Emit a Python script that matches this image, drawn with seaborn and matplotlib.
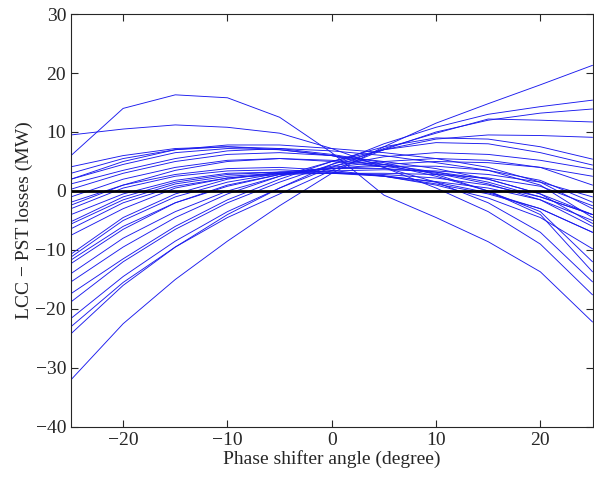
import matplotlib
matplotlib.use("Agg")
import matplotlib.pyplot as plt
import pandas as pd
import seaborn as sns

sns.set_style("ticks")
plt.rcParams["font.family"] = ["Liberation Serif", "DejaVu Serif"]
plt.rcParams["xtick.direction"] = "in"
plt.rcParams["ytick.direction"] = "in"

angles = [-25, -20, -15, -10, -5, 0, 5, 10, 15, 20, 25]

# loss differences per operating case
cases = [
    [-32.0, -22.5, -15.0, -8.5, -2.5, 3.0, 7.5, 11.5, 14.8, 18.0, 21.3],
    [-24.2, -16.0, -9.5, -4.0, 0.5, 4.5, 8.0, 10.8, 13.0, 14.3, 15.4],
    [-23.0, -15.5, -9.5, -4.5, -0.5, 3.5, 7.0, 10.0, 12.0, 13.2, 13.9],
    [-21.6, -14.5, -8.5, -3.5, 0.5, 4.0, 7.2, 9.8, 12.2, 12.0, 11.7],
    [-18.8, -12.0, -6.5, -2.0, 1.5, 4.5, 7.0, 8.8, 9.5, 9.4, 9.1],
    [-17.4, -11.5, -6.0, -1.5, 2.0, 5.0, 7.5, 9.0, 8.8, 7.5, 5.4],
    [-15.4, -9.5, -4.5, -0.5, 2.5, 5.0, 7.0, 8.2, 8.0, 6.5, 4.4],
    [-14.0, -8.0, -3.5, 0.0, 2.5, 4.2, 5.8, 6.5, 6.2, 5.2, 3.7],
    [-12.3, -6.5, -2.0, 0.8, 2.8, 3.8, 4.5, 5.0, 4.8, 4.0, 2.5],
    [-11.7, -6.0, -2.0, 1.0, 2.8, 4.0, 5.0, 5.5, 5.2, 4.0, 1.0],
    [-11.2, -5.0, -1.0, 1.5, 3.0, 3.8, 4.2, 4.2, 3.5, 1.8, -1.9],
    [-10.7, -4.5, -0.5, 2.0, 3.2, 3.8, 3.8, 3.2, 2.0, -0.5, -4.0],
    [-7.5, -3.0, 0.5, 2.2, 3.0, 3.4, 3.6, 3.4, 2.8, 1.5, -1.0],
    [-6.4, -2.0, 0.8, 2.2, 2.8, 3.0, 3.0, 2.8, 2.2, 0.8, -2.5],
    [-5.6, -1.5, 1.2, 2.5, 3.0, 3.0, 2.8, 2.2, 1.0, -1.0, -4.0],
    [-5.2, -1.0, 1.5, 2.8, 3.2, 3.2, 2.6, 1.5, -0.3, -3.0, -7.0],
    [-4.0, -0.5, 1.8, 3.0, 3.2, 3.0, 2.5, 1.6, 0.5, -1.5, -5.0],
    [-3.0, 0.5, 2.5, 3.4, 3.6, 3.2, 2.5, 1.2, -0.5, -3.0, -7.0],
    [-1.9, 1.0, 2.8, 3.8, 4.0, 3.5, 2.5, 1.0, -1.2, -4.5, -9.8],
    [-1.0, 2.0, 4.0, 5.2, 5.5, 5.0, 4.2, 3.0, 1.2, -1.5, -6.0],
    [0.3, 3.0, 5.0, 6.2, 6.5, 6.0, 5.0, 3.8, 2.0, -0.5, -5.5],
    [1.2, 3.5, 5.5, 6.8, 7.2, 6.8, 6.0, 4.8, 3.5, 1.0, -4.5],
    [2.0, 4.5, 6.5, 7.2, 7.0, 6.0, 4.5, 2.5, 0.0, -3.5, -12.0],
    [2.0, 5.0, 7.0, 7.5, 7.2, 6.2, 4.8, 2.8, 0.0, -4.0, -13.7],
    [4.1, 6.0, 7.2, 7.5, 7.0, 6.0, 4.0, 1.5, -2.0, -7.0, -15.4],
    [3.0, 5.5, 7.0, 7.8, 7.8, 7.2, 6.5, 5.5, 4.0, 1.5, -3.0],
    [-2.4, 1.0, 3.5, 5.0, 5.5, 5.2, 4.5, 3.2, 1.5, -1.0, -4.0],
    [6.0, 14.0, 16.3, 15.8, 12.5, 6.5, -0.7, -4.5, -8.6, -13.7, -22.2],
    [9.5, 10.5, 11.2, 10.8, 9.8, 7.2, 4.0, 0.5, -3.5, -9.0, -17.6],
]

rows = []
for i, vals in enumerate(cases):
    for a, v in zip(angles, vals):
        rows.append({"case": i, "angle": a, "loss": v})
df = pd.DataFrame(rows)

fig = plt.figure(figsize=(5.94, 4.83), dpi=100)
ax = fig.add_axes([0.1195, 0.116, 0.878, 0.855])

sns.lineplot(data=df, x="angle", y="loss", units="case", estimator=None,
             color="#1a1aee", linewidth=0.65, ax=ax)
ax.axhline(0, color="black", linewidth=2)

ax.set_xlim(-25, 25)
ax.set_ylim(-40, 30)
ax.set_xticks([-20, -10, 0, 10, 20])
ax.set_yticks([-40, -30, -20, -10, 0, 10, 20, 30])
ax.tick_params(labelsize=14, top=True, right=True, length=5, width=0.8)
ax.set_xticklabels(["\u221220", "\u221210", "0", "10", "20"])
ax.set_yticklabels(["\u221240", "\u221230", "\u221220", "\u221210", "0", "10", "20", "30"])
ax.set_xlabel("Phase shifter angle (degree)", fontsize=14, labelpad=1)
ax.set_ylabel("LCC \u2212 PST losses (MW)", fontsize=14, labelpad=2)
for s in ax.spines.values():
    s.set_linewidth(0.8)

fig.savefig("out.png", dpi=100)
